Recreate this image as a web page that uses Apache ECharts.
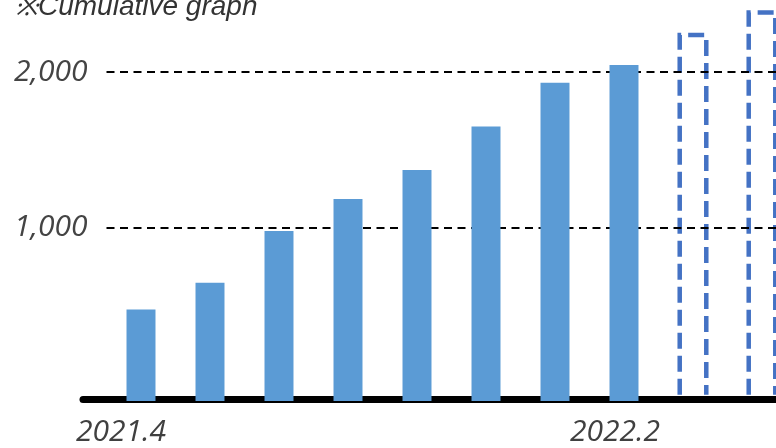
<!DOCTYPE html>
<html>
<head>
<meta charset="utf-8">
<script src="https://cdn.jsdelivr.net/npm/echarts@6/dist/echarts.min.js"></script>
<style>
html, body { margin: 0; padding: 0; background: #fff; }
#chart { width: 776px; height: 448px; }
</style>
</head>
<body>
<div id="chart"></div>
<script>
// ---- data ----
const categories = ['2021.4', '', '', '', '', '', '', '2022.2', '', ''];
const cumulative = [472, 643, 976, 1182, 1369, 1649, 1931, 2045];   // actual (solid bars)
const projected = [2238, 2383];                                      // forecast (dashed outline bars)
const yTickValues = [1000, 2000];
const titleText = '※Cumulative graph';

// ---- derived series data ----
const solidData = cumulative.map((v, i) => [i, v]);
const dashedData = projected.map((v, i) => [cumulative.length + i, v]);

const Y_MIN = -118, Y_MAX = 2450;
const BAR_RATIO = 0.42;

const chart = echarts.init(document.getElementById('chart'), null, { renderer: 'canvas' });

function solidItem(params, api) {
  const i = api.value(0), v = api.value(1);
  const top = api.coord([i, v]);
  const base = api.coord([i, Y_MIN]);
  const w = api.size([1, 0])[0] * BAR_RATIO;
  return {
    type: 'rect',
    shape: { x: top[0] - w / 2, y: top[1], width: w, height: base[1] - top[1] },
    style: { fill: '#5B9BD5' }
  };
}

function dashedItem(params, api) {
  const i = api.value(0), v = api.value(1);
  const top = api.coord([i, v]);
  const base = api.coord([i, 0]);
  const w = api.size([1, 0])[0] * 0.385;
  const x0 = top[0] - w / 2, x1 = top[0] + w / 2;
  return {
    type: 'polyline',
    shape: { points: [[x0, base[1] + 12], [x0, top[1]], [x1, top[1]], [x1, base[1] + 12]] },
    style: { fill: null, stroke: '#4472C4', lineWidth: 4.5, lineDash: [16, 7] }
  };
}

const option = {
  animation: false,
  title: {
    text: titleText,
    left: 10,
    top: -12,
    textStyle: { fontFamily: 'Liberation Sans', fontStyle: 'italic', fontWeight: 'normal', fontSize: 28, color: '#333' }
  },
  grid: [
    { left: 106.5, width: 690, top: 2.2, height: 398.8, outerBoundsMode: 'none', containLabel: false },
    { left: 83, right: 0, top: 0, bottom: 48.5, outerBoundsMode: 'none', containLabel: false }
  ],
  xAxis: [
    {
      type: 'category', gridIndex: 0, data: categories, boundaryGap: true,
      axisLine: { show: false }, axisTick: { show: false }, splitLine: { show: false },
      axisLabel: {
        interval: 0, margin: 16,
        formatter: (val, idx) => val === '' ? '' : (idx === 0 ? '{a|' + val + '}' : '{b|' + val + '}'),
        rich: {
          a: { fontFamily: 'Open Sans', fontStyle: 'italic', fontSize: 30, color: '#404040', padding: [0, 40, 0, 0] },
          b: { fontFamily: 'Open Sans', fontStyle: 'italic', fontSize: 30, color: '#404040', padding: [0, 18, 0, 0] }
        }
      }
    },
    {
      type: 'value', gridIndex: 1, min: 0, max: 1,
      axisLine: { show: true, onZero: false, lineStyle: { color: '#000', width: 7 } },
      axisTick: { show: false }, axisLabel: { show: false }, splitLine: { show: false }
    }
  ],
  yAxis: [
    {
      type: 'value', gridIndex: 0, min: Y_MIN, max: Y_MAX,
      axisLine: { show: false }, axisTick: { show: false }, splitLine: { show: false },
      axisLabel: {
        customValues: yTickValues,
        margin: 19,
        formatter: v => Number(v).toLocaleString('en-US'),
        fontFamily: 'Open Sans', fontStyle: 'italic', fontSize: 30, color: '#444'
      }
    },
    { type: 'value', gridIndex: 1, show: false, min: 0, max: 1 }
  ],
  series: [
    {
      type: 'custom', name: 'Cumulative', xAxisIndex: 0, yAxisIndex: 0,
      renderItem: solidItem, data: solidData, z: 3,
      markLine: {
        z: 1, silent: true, symbol: 'none', animation: false,
        label: { show: false },
        lineStyle: { color: '#000', width: 2, type: [8, 5.5] },
        data: yTickValues.map(v => ({ yAxis: v }))
      }
    },
    {
      type: 'custom', name: 'Forecast', xAxisIndex: 0, yAxisIndex: 0,
      renderItem: dashedItem, data: dashedData, z: -1
    }
  ]
};
chart.setOption(option);
</script>
</body>
</html>
